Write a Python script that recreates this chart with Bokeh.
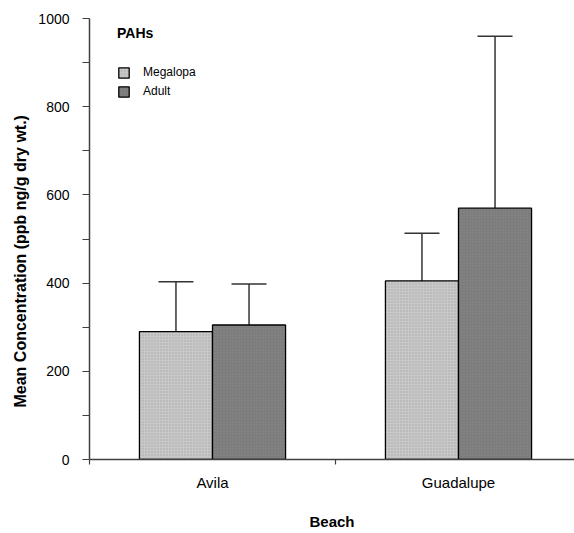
from bokeh.plotting import figure
from bokeh.models import (ColumnDataSource, FixedTicker, Range1d, Legend, LegendItem,
                          Whisker, TeeHead, Title)
from bokeh.embed import file_html
from bokeh.resources import INLINE

beaches = ["Avila", "Guadalupe"]
megalopa = [290, 405]
megalopa_upper = [403, 513]
adult = [305, 570]
adult_upper = [398, 960]

y_ticks = [0, 200, 400, 600, 800, 1000]
y_minor = [100, 300, 500, 700, 900]
y_title = "Mean Concentration (ppb ng/g dry wt.)"
x_title = "Beach"

FONT = "Liberation Sans"
bar_w = 0.297
centers = [i + 0.5 for i in range(len(beaches))]
x_mega = [c - bar_w / 2 for c in centers]
x_adult = [c + bar_w / 2 for c in centers]

p = figure(frame_width=485, frame_height=441, output_backend="svg", toolbar_location=None,
           x_range=Range1d(0, 485 / 246), y_range=Range1d(0, 1000),
           min_border_left=89, min_border_right=0, min_border_top=18, min_border_bottom=20)
p.outline_line_color = None
p.xgrid.visible = False
p.ygrid.visible = False

src_m = ColumnDataSource(dict(x=x_mega, top=megalopa, upper=megalopa_upper))
src_a = ColumnDataSource(dict(x=x_adult, top=adult, upper=adult_upper))

r_m = p.vbar(x="x", top="top", bottom=0, width=bar_w, source=src_m,
             fill_color="#c8c8c8", line_color="black", line_width=1.3,
             hatch_pattern="dot", hatch_scale=3, hatch_color="#a8a8a8", hatch_weight=0.8)
r_a = p.vbar(x="x", top="top", bottom=0, width=bar_w, source=src_a,
             fill_color="#7c7c7c", line_color="black", line_width=1.3,
             hatch_pattern="dot", hatch_scale=3, hatch_color="#8c8c8c", hatch_weight=0.8)

for src in (src_m, src_a):
    w = Whisker(source=src, base="x", lower="top", upper="upper",
                line_color="black", line_width=1.2,
                upper_head=TeeHead(size=35, line_color="#333333", line_width=1.5),
                lower_head=None)
    p.add_layout(w)

# axes
p.yaxis.ticker = FixedTicker(ticks=y_ticks, minor_ticks=y_minor)
p.yaxis.major_tick_in = 0
p.yaxis.major_tick_out = 7
p.yaxis.minor_tick_in = 0
p.yaxis.minor_tick_out = 7
p.yaxis.major_label_standoff = 13

p.xaxis.ticker = FixedTicker(ticks=centers, minor_ticks=[0, 1, 2])
p.xaxis.major_label_overrides = {c: b for c, b in zip(centers, beaches)}
p.xaxis.major_tick_in = 0
p.xaxis.major_tick_out = 0
p.xaxis.minor_tick_in = 0
p.xaxis.minor_tick_out = 5
p.xaxis.major_label_standoff = 9
p.xaxis.axis_label = x_title
p.xaxis.axis_label_standoff = 19

for ax in (p.xaxis[0], p.yaxis[0]):
    ax.axis_line_color = "#404040"
    ax.axis_line_width = 1.5
    ax.major_tick_line_color = "#404040"
    ax.minor_tick_line_color = "#404040"
    ax.major_tick_line_width = 1.2
    ax.minor_tick_line_width = 1.2
    ax.major_label_text_font = FONT
    ax.major_label_text_color = "black"
    ax.axis_label_text_font = FONT
    ax.axis_label_text_font_size = "15px"
    ax.axis_label_text_font_style = "bold"
    ax.axis_label_text_color = "black"
p.yaxis.major_label_text_font_size = "14px"
p.xaxis.major_label_text_font_size = "15px"

# y-axis title as a side title, starting 52px above the frame bottom
p.add_layout(Title(text=y_title, align="left", offset=52, standoff=13,
                   text_font=FONT, text_font_size="16px", text_font_style="bold",
                   text_color="black"), "left")

legend = Legend(items=[LegendItem(label="Megalopa", renderers=[r_m]),
                       LegendItem(label="Adult", renderers=[r_a])],
                location=(28, 361), title="PAHs")
legend.title_text_font = FONT
legend.title_text_font_style = "bold"
legend.title_text_font_size = "14px"
legend.title_text_color = "black"
legend.title_standoff = 24
legend.label_text_font = FONT
legend.label_text_font_size = "12px"
legend.label_text_color = "black"
legend.glyph_width = 13
legend.glyph_height = 13
legend.label_height = 13
legend.label_standoff = 13
legend.spacing = 5
legend.padding = 0
legend.margin = 0
legend.border_line_color = None
legend.background_fill_alpha = 0
p.add_layout(legend, "center")

open("out.html", "w").write(file_html(p, INLINE))
